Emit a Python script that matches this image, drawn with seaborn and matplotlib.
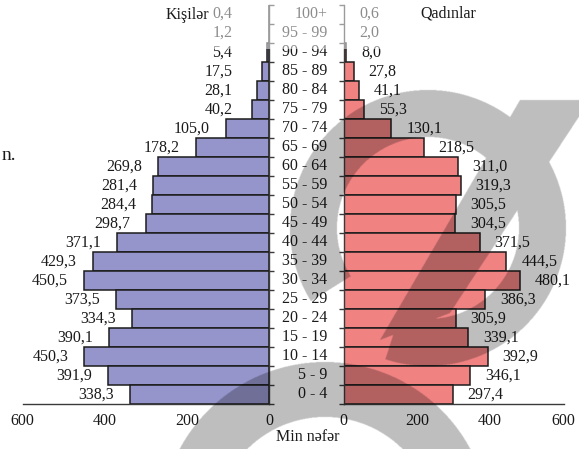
import numpy as np
import pandas as pd
import matplotlib
matplotlib.use("Agg")
import matplotlib.pyplot as plt
import seaborn as sns
from matplotlib.path import Path
from matplotlib.patches import Rectangle

# ---------------- data ----------------
age_groups = ["100+", "95 - 99", "90 - 94", "85 - 89", "80 - 84", "75 - 79",
              "70 - 74", "65 - 69", "60 - 64", "55 - 59", "50 - 54", "45 - 49",
              "40 - 44", "35 - 39", "30 - 34", "25 - 29", "20 - 24", "15 - 19",
              "10 - 14", "5 - 9", "0 - 4"]
male = [0.4, 1.2, 5.4, 17.5, 28.1, 40.2, 105.0, 178.2, 269.8, 281.4, 284.4,
        298.7, 371.1, 429.3, 450.5, 373.5, 334.3, 390.1, 450.3, 391.9, 338.3]
female = [0.6, 2.0, 8.0, 27.8, 41.1, 55.3, 130.1, 218.5, 311.0, 319.3, 305.5,
          304.5, 371.5, 444.5, 480.1, 386.3, 305.9, 339.1, 392.9, 346.1, 297.4]
x_ticks = [0, 200, 400, 600]
title_male = "Kişilər"
title_female = "Qadınlar"
x_label = "Min nəfər"

df = pd.DataFrame({"age": age_groups, "male": male, "female": female})

# ---------------- style ----------------
sns.set_theme(style="white")
FAM = ["Liberation Serif", "DejaVu Serif"]
plt.rcParams["font.family"] = FAM
plt.rcParams["font.serif"] = ["Liberation Serif", "DejaVu Serif"]
FS = 11.5
BLUE = "#9595CB"
RED = "#F08282"
EDGE = "#1c1c1c"
SPINE = "#3a3a3a"
TXT = "#1a1a1a"

W, H = 579, 449
fig = plt.figure(figsize=(W / 100, H / 100), dpi=100)
top_px, bot_px = 4.6, 404.0
axL = fig.add_axes([22.7 / W, 1 - bot_px / H, (269.0 - 22.7) / W, (bot_px - top_px) / H])
axR = fig.add_axes([343.5 / W, 1 - bot_px / H, (563.5 - 343.5) / W, (bot_px - top_px) / H])

sns.barplot(data=df, x="male", y="age", orient="h", color=BLUE, saturation=1,
            width=1.0, edgecolor=EDGE, linewidth=1.1, ax=axL)
sns.barplot(data=df, x="female", y="age", orient="h", color=RED, saturation=1,
            width=1.0, edgecolor=EDGE, linewidth=1.1, ax=axR)

n = len(age_groups)
for ax in (axL, axR):
    ax.set_ylim(n - 0.5, -0.5)
    ax.set_yticks(np.arange(-0.5, n, 1.0))
    ax.set_yticklabels([])
    ax.set_xticks(x_ticks)
    ax.set_xticklabels([str(t) for t in x_ticks], fontfamily=FAM, fontsize=FS,
                       color=TXT)
    ax.set_xlabel("")
    ax.set_ylabel("")
    ax.tick_params(axis="both", direction="out", length=3.6, width=1,
                   color=SPINE, pad=3)
    ax.spines["top"].set_visible(False)
    for s in ax.spines.values():
        s.set_color(SPINE)
        s.set_linewidth(1.0)
    ax.set_facecolor("none")

axL.set_xlim(600, 0)
axR.set_xlim(0, 600)
axL.yaxis.tick_right()
axL.spines["left"].set_visible(False)
axR.yaxis.tick_left()
axR.spines["right"].set_visible(False)

# value labels
for i, (m, f) in enumerate(zip(male, female)):
    axL.annotate(f"{m:.1f}".replace(".", ","), xy=(max(m, 50), i), xytext=(-16, 0),
                 textcoords="offset pixels", ha="right", va="center",
                 fontsize=FS, color=TXT, fontfamily=FAM)
    axR.annotate(f"{f:.1f}".replace(".", ","), xy=(max(f, 3), i), xytext=(15, 0),
                 textcoords="offset pixels", ha="left", va="center",
                 fontsize=FS, color=TXT, fontfamily=FAM)
    axR.annotate(age_groups[i], xy=(0, i), xytext=(-16, 0),
                 textcoords="offset pixels", ha="right", va="center",
                 fontsize=FS, color=TXT, fontfamily=FAM)

# ---------------- overlay (fade box, watermark, titles) ----------------
axO = fig.add_axes([0, 0, 1, 1], zorder=10)
axO.set_xlim(0, W)
axO.set_ylim(H, 0)
axO.axis("off")
axO.patch.set_alpha(0)

axO.add_patch(Rectangle((140, 0), 367, 49, facecolor="white", alpha=0.5,
                        lw=0, zorder=1))

# watermark mask (decorative)
S = 2
yy, xx = np.mgrid[0:H * S, 0:W * S]
X = (xx + 0.5) / S
Y = (yy + 0.5) / S
cx1, cy1, R1, r1 = 428, 228, 138, 91
d1 = np.hypot(X - cx1, Y - cy1)
ang = np.degrees(np.arctan2(-(Y - cy1), X - cx1)) % 360
ring1 = (d1 >= r1) & (d1 <= R1) & ~((ang > 212) & (ang < 252))
cx2, cy2, R2, r2 = 325, 527, 165, 110
d2 = np.hypot(X - cx2, Y - cy2)
ring2 = (d2 >= r2) & (d2 <= R2)
stripe = Path([(380, 340), (450, 313), (590, 100), (520, 100)]).contains_points(
    np.column_stack([X.ravel(), Y.ravel()])).reshape(X.shape)
mask = ring1 | ring2 | stripe
rgba = np.zeros(mask.shape + (4,))
rgba[..., 3] = mask * 0.255
axO.imshow(rgba, extent=(0, W, H, 0), interpolation="bilinear", zorder=2,
           aspect="auto")
axO.set_xlim(0, W)
axO.set_ylim(H, 0)

axO.text(187, 15, title_male, ha="center", va="center", fontsize=FS, color=TXT,
         zorder=3, fontfamily=FAM)
axO.text(448, 14, title_female, ha="center", va="center", fontsize=FS, color=TXT,
         zorder=3, fontfamily=FAM)
axO.text(308, 437, x_label, ha="center", va="center", fontsize=FS, color=TXT,
         zorder=3, fontfamily=FAM)
axO.text(2, 155, "n.", ha="left", va="center", fontsize=14, color=TXT, zorder=3,
         fontfamily=FAM)

fig.savefig("out.png", dpi=100)
